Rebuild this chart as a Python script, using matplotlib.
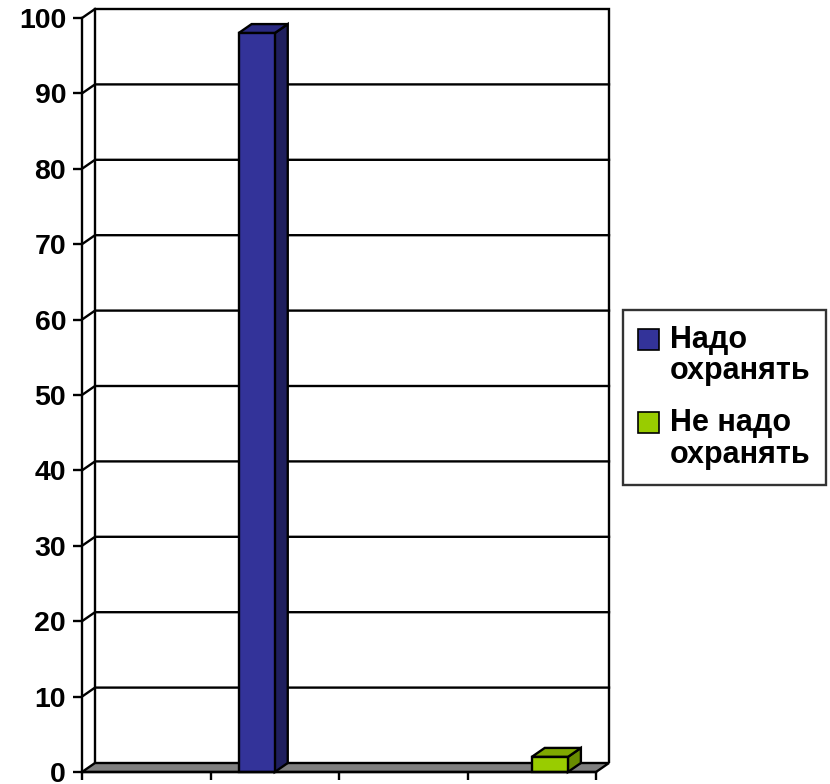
import matplotlib

matplotlib.use("Agg")

import matplotlib.pyplot as plt
from matplotlib.legend_handler import HandlerPatch
from matplotlib.patches import Patch, Polygon, Rectangle

# data
categories = ["", "", "", ""]
series_names = ["Надо\nохранять", "Не надо\nохранять"]
series_values = [
    [0, 98, 0, 0],
    [0, 0, 0, 2],
]
y_ticks = list(range(0, 101, 10))

# style
FRONT = ["#333399", "#99cc00"]
TOP = ["#2a2a82", "#7fa800"]
SIDE = ["#1f1f5e", "#688c00"]
FLOOR = "#808080"
DEPTH_PX = (13.0, 9.0)
GAP = 0.21875
BAR_W = 0.28125
LW = 1.7

plt.rcParams["font.family"] = ["Liberation Sans", "DejaVu Sans"]
plt.rcParams["font.weight"] = "bold"

fig = plt.figure(figsize=(8.3, 7.84), dpi=100)
ax = fig.add_axes([82 / 830, 12 / 784, 514 / 830, 754 / 784])
n = len(categories)
ax.set_xlim(0, n)
ax.set_ylim(0, 100)

# depth offset in data units
dx = DEPTH_PX[0] / (514 / n)
dy = DEPTH_PX[1] / (754 / 100)

kw = dict(clip_on=False, linewidth=LW, edgecolor="black", joinstyle="miter")

# floor
ax.add_patch(Polygon([(0, 0), (n, 0), (n + dx, dy), (dx, dy)], facecolor=FLOOR, zorder=1, **kw))

# back wall + gridlines
ax.add_patch(Polygon([(dx, dy), (dx, 100 + dy), (n + dx, 100 + dy), (n + dx, dy)],
                     closed=False, facecolor="none", zorder=2, **kw))
for v in y_ticks[1:-1]:
    ax.plot([0, dx, n + dx], [v, v + dy, v + dy], color="black", lw=LW, zorder=2, clip_on=False)
ax.plot([0, dx], [100, 100 + dy], color="black", lw=LW, zorder=2, clip_on=False)

# bars
for s, vals in enumerate(series_values):
    for i, v in enumerate(vals):
        if v <= 0:
            continue
        x0 = i + GAP + s * BAR_W
        x1 = x0 + BAR_W
        ax.add_patch(Polygon([(x1, 0), (x1 + dx, dy), (x1 + dx, v + dy), (x1, v)],
                             facecolor=SIDE[s], zorder=4, **kw))
        ax.add_patch(Polygon([(x0, v), (x1, v), (x1 + dx, v + dy), (x0 + dx, v + dy)],
                             facecolor=TOP[s], zorder=4, **kw))
        ax.add_patch(Rectangle((x0, 0), BAR_W, v, facecolor=FRONT[s], zorder=5, **kw))

# axes
for side in ["top", "right"]:
    ax.spines[side].set_visible(False)
for side in ["left", "bottom"]:
    ax.spines[side].set_linewidth(LW)
    ax.spines[side].set_zorder(6)
ax.set_facecolor("none")
ax.set_yticks(y_ticks)
ax.set_yticklabels([str(t) for t in y_ticks], fontsize=20.5, fontweight="bold")
ax.set_xticks(range(n + 1))
ax.set_xticklabels([])
ax.tick_params(axis="y", direction="out", length=6.5, width=LW, pad=5)
ax.tick_params(axis="x", direction="out", length=6, width=LW)


# legend: square sits next to the first line of each label
def first_line_square(legend, orig_handle, xdescent, ydescent, width, height, fontsize):
    return Rectangle((-xdescent, -ydescent + 0.55 * fontsize), width, height)


handles = [Patch(facecolor=FRONT[s], edgecolor="black", linewidth=1.2) for s in range(len(series_names))]
leg = fig.legend(handles, series_names, loc="upper left", bbox_to_anchor=(623 / 830, 1 - 310 / 784),
                 frameon=True, fancybox=False, prop={"size": 22, "weight": "bold"},
                 handlelength=0.68, handleheight=0.68, handletextpad=0.35, borderpad=0.5,
                 labelspacing=0.72, borderaxespad=0,
                 handler_map={Patch: HandlerPatch(patch_func=first_line_square)})
for t in leg.get_texts():
    t.set_linespacing(1.05)
leg.get_frame().set_edgecolor("black")
leg.get_frame().set_linewidth(LW)

fig.savefig("out.png", dpi=100)
